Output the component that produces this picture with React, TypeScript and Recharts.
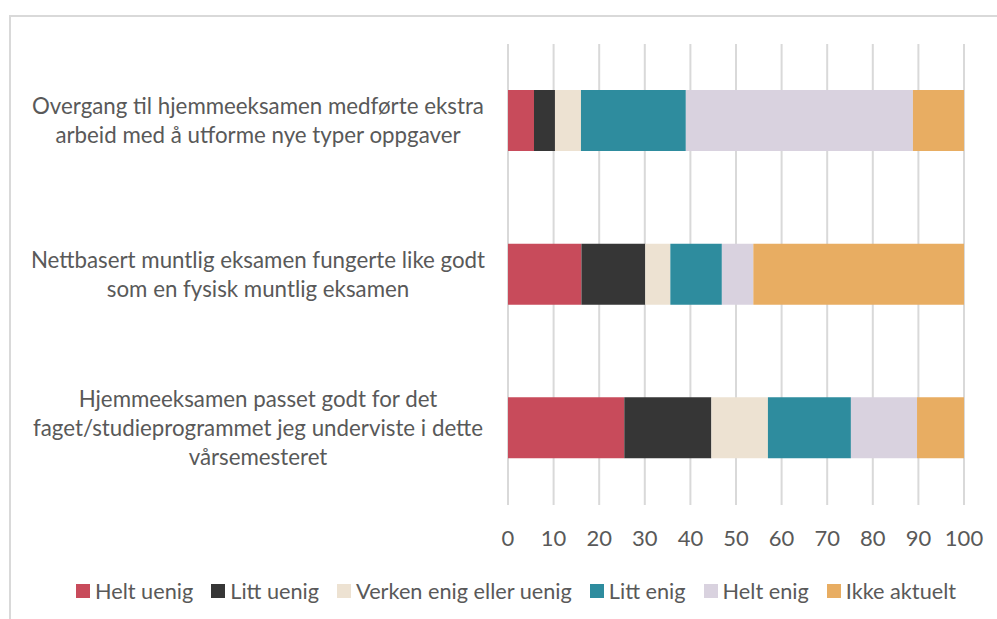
import { BarChart, Bar, XAxis, YAxis, CartesianGrid } from "recharts";

const statements = [
  "Overgang til hjemmeeksamen medførte ekstra\narbeid med å utforme nye typer oppgaver",
  "Nettbasert muntlig eksamen fungerte like godt\nsom en fysisk muntlig eksamen",
  "Hjemmeeksamen passet godt for det\nfaget/studieprogrammet jeg underviste i dette\nvårsemesteret",
];

const seriesNames = [
  "Helt uenig",
  "Litt uenig",
  "Verken enig eller uenig",
  "Litt enig",
  "Helt enig",
  "Ikke aktuelt",
];

const heltUenig = [5.7, 16.1, 25.5];
const littUenig = [4.6, 14.0, 19.1];
const verken = [5.7, 5.5, 12.4];
const littEnig = [23.0, 11.3, 18.2];
const heltEnig = [49.8, 6.9, 14.5];
const ikkeAktuelt = [11.2, 46.2, 10.3];

const xTicks = [0, 10, 20, 30, 40, 50, 60, 70, 80, 90, 100];

const colors = ["#C84B5B", "#363636", "#EDE2D2", "#2E8C9E", "#D9D2DF", "#E8AD62"];
const keys = ["s0", "s1", "s2", "s3", "s4", "s5"];
const allSeries = [heltUenig, littUenig, verken, littEnig, heltEnig, ikkeAktuelt];

const data = statements.map((name, i) => {
  const row: Record<string, number | string> = { name };
  allSeries.forEach((s, j) => {
    row[keys[j]] = s[i];
  });
  return row;
});

const font = "Lato, 'Open Sans', sans-serif";
const textColor = "#595959";

function CategoryTick(props: any) {
  const { y, payload } = props;
  const lines = String(payload.value).split("\n");
  const lh = 29;
  const start = y - ((lines.length - 1) * lh) / 2;
  return (
    <text
      x={258}
      y={start}
      textAnchor="middle"
      fill={textColor}
      fontSize={22.3}
      fontFamily={font}
    >
      {lines.map((l, i) => (
        <tspan key={i} x={258} y={start + i * lh} dy="0.35em">
          {l}
        </tspan>
      ))}
    </text>
  );
}

export default function App() {
  return (
    <div style={{ position: "absolute", left: 0, top: 0, width: 997, height: 619, background: "#fff", overflow: "hidden" }}>
      <div
        style={{
          position: "absolute",
          left: 9,
          top: 15,
          width: 1000,
          height: 620,
          borderLeft: "2px solid #d9d9d9",
          borderTop: "2px solid #d9d9d9",
        }}
      />
      <div style={{ position: "absolute", left: 0, top: 0 }}>
        <BarChart
          layout="vertical"
          width={997}
          height={619}
          data={data}
          margin={{ top: 44, right: 33, left: 0, bottom: 84 }}
          barSize={61}
        >
          <CartesianGrid horizontal={false} stroke="#d9d9d9" strokeWidth={2} />
          <XAxis
            type="number"
            domain={[0, 100]}
            ticks={xTicks}
            axisLine={false}
            tickLine={false}
            height={30}
            tickMargin={19}
            tick={{ fill: textColor, fontSize: 22, fontFamily: font }}
          />
          <YAxis
            type="category"
            dataKey="name"
            width={508}
            axisLine={false}
            tickLine={false}
            tick={<CategoryTick />}
            interval={0}
          />
          {keys.map((k, j) => (
            <Bar
              key={k}
              dataKey={k}
              name={seriesNames[j]}
              stackId="a"
              fill={colors[j]}
              isAnimationActive={false}
            />
          ))}
        </BarChart>
      </div>
      <div
        style={{
          position: "absolute",
          left: 76,
          top: 578,
          display: "flex",
          alignItems: "center",
          fontFamily: font,
          fontSize: 21.7,
          color: textColor,
          whiteSpace: "nowrap",
        }}
      >
        {seriesNames.map((n, j) => (
          <div key={n} style={{ display: "flex", alignItems: "center", marginRight: 18 }}>
            <span style={{ width: 14, height: 14, background: colors[j], marginRight: 5, display: "inline-block" }} />
            <span>{n}</span>
          </div>
        ))}
      </div>
    </div>
  );
}
